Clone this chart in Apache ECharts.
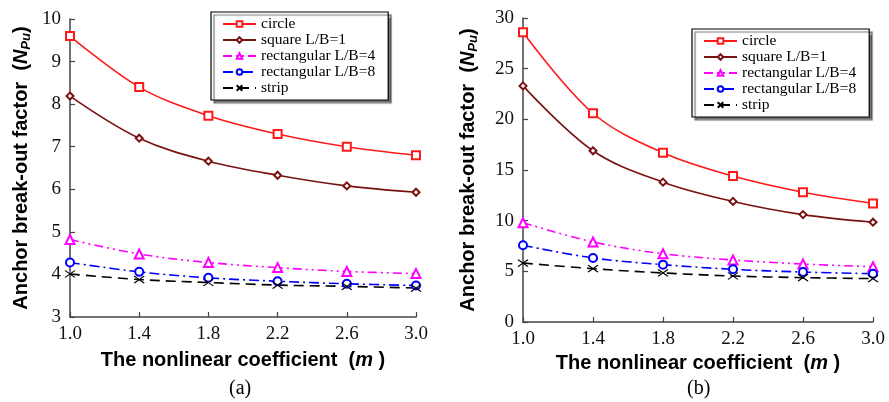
<!DOCTYPE html>
<html>
<head>
<meta charset="utf-8">
<script src="https://cdn.jsdelivr.net/npm/echarts@6/dist/echarts.min.js"></script>
<style>
html,body{margin:0;padding:0;background:#fff;}
#main{width:889px;height:402px;}
</style>
</head>
<body>
<div id="main"></div>
<script>
// ---- data ----
const categories = ['1.0', '1.4', '1.8', '2.2', '2.6', '3.0'];
const seriesNames = ['circle', 'square L/B=1', 'rectangular L/B=4', 'rectangular L/B=8', 'strip'];

// panel (a)
const aCircle = [9.60, 8.40, 7.73, 7.30, 7.00, 6.80];
const aSquare = [8.19, 7.20, 6.66, 6.33, 6.08, 5.93];
const aRect4  = [4.82, 4.48, 4.28, 4.16, 4.07, 4.02];
const aRect8  = [4.28, 4.06, 3.92, 3.84, 3.78, 3.74];
const aStrip  = [4.01, 3.88, 3.81, 3.75, 3.72, 3.68];

// panel (b)
const bCircle = [28.6, 20.6, 16.7, 14.4, 12.8, 11.7];
const bSquare = [23.3, 16.9, 13.8, 11.9, 10.6, 9.85];
const bRect4  = [9.80, 7.90, 6.74, 6.12, 5.72, 5.46];
const bRect8  = [7.57, 6.32, 5.66, 5.20, 4.93, 4.77];
const bStrip  = [5.82, 5.26, 4.84, 4.54, 4.38, 4.28];

const panelLabels = ['(a)', '(b)'];

// ---- styles ----
const styles = [
  {color: '#ff1a1a', symbol: 'emptyRect', size: 8, type: 'solid'},
  {color: '#7a1212', symbol: 'emptyDiamond', size: 7, type: 'solid'},
  {color: '#ff00ff', symbol: 'emptyTriangle', size: 9, type: [9, 4, 2, 4, 2, 4]},
  {color: '#0000ff', symbol: 'emptyCircle', size: 8, type: [10, 4, 2, 4]},
  {color: '#000000', symbol: 'path://M0,0L12,9M0,9L12,0', size: [10, 7], type: [10, 6]}
];

const serif = 'Liberation Serif, Times New Roman, serif';
const sans = 'Liberation Sans, Arial, sans-serif';

function makeSeries(dataArr, idx) {
  return dataArr.map((d, i) => {
    const s = styles[i];
    const isPath = s.symbol.indexOf('path://') === 0;
    return {
      name: seriesNames[i],
      type: 'line',
      xAxisIndex: idx,
      yAxisIndex: idx,
      data: d,
      smooth: 0.35,
      symbol: s.symbol,
      symbolSize: s.size,
      showAllSymbol: true,
      lineStyle: {color: s.color, width: 1.6, type: s.type},
      itemStyle: isPath ? {color: s.color, borderColor: s.color, borderWidth: 1.2}
                        : {color: s.color, borderWidth: 1.1},
      emphasis: {disabled: true},
      animation: false
    };
  });
}

function yName() {
  return '{b|Anchor break-out factor  (}{i|N}{s|Pu}{b|)}';
}
const yNameRich = {
  b: {fontFamily: sans, fontWeight: 'bold', fontSize: 20, color: '#000', lineHeight: 24, verticalAlign: 'middle'},
  i: {fontFamily: sans, fontWeight: 'bold', fontStyle: 'italic', fontSize: 20, color: '#000', lineHeight: 24, verticalAlign: 'middle'},
  s: {fontFamily: sans, fontWeight: 'bold', fontStyle: 'italic', fontSize: 13, color: '#000', lineHeight: 14, verticalAlign: 'bottom'}
};
const xNameRich = {
  b: {fontFamily: sans, fontWeight: 'bold', fontSize: 20, color: '#000'},
  i: {fontFamily: sans, fontWeight: 'bold', fontStyle: 'italic', fontSize: 20, color: '#000'}
};

function xAxis(idx, gap) {
  return {
    type: 'category', gridIndex: idx, data: categories, boundaryGap: false,
    name: '{b|The nonlinear coefficient  (}{i|m}{b| )}', nameLocation: 'middle', nameGap: gap,
    nameTextStyle: {rich: xNameRich},
    axisLine: {lineStyle: {color: '#444', width: 1.5}},
    axisTick: {inside: true, length: 5, lineStyle: {color: '#444', width: 1.2}},
    axisLabel: {fontFamily: serif, fontSize: 19, color: '#111', margin: 8, interval: 0},
    splitLine: {show: false}
  };
}
function yAxis(idx, min, max, interval, gap) {
  return {
    type: 'value', gridIndex: idx, min: min, max: max, interval: interval,
    name: yName(), nameLocation: 'middle', nameGap: gap, nameRotate: 90,
    nameTextStyle: {rich: yNameRich},
    axisLine: {show: true, lineStyle: {color: '#444', width: 1.5}},
    axisTick: {show: true, inside: true, length: 5, lineStyle: {color: '#444', width: 1.2}},
    axisLabel: {fontFamily: serif, fontSize: 19, color: '#111', margin: 9},
    splitLine: {show: false}
  };
}
function legend(left, top) {
  return {
    orient: 'vertical', left: left, top: top,
    data: seriesNames,
    itemWidth: 33, itemHeight: 7, itemGap: 0,
    padding: [4, 13, 4, 11],
    backgroundColor: '#fff',
    borderColor: '#000', borderWidth: 1.2, borderRadius: 0,
    shadowColor: 'rgba(0,0,0,0.55)', shadowBlur: 1, shadowOffsetX: 3, shadowOffsetY: 3,
    textStyle: {fontFamily: serif, fontSize: 15.5, color: '#000', lineHeight: 16, padding: [0, 0, 0, 0]},
    selectedMode: false
  };
}

const chart = echarts.init(document.getElementById('main'), null, {renderer: 'canvas'});
chart.setOption({
  animation: false,
  backgroundColor: '#fff',
  grid: [
    {left: 70, top: 19, width: 346, height: 298},
    {left: 523, top: 18, width: 350, height: 304}
  ],
  xAxis: [xAxis(0, 33), xAxis(1, 29)],
  yAxis: [yAxis(0, 3, 10, 1, 37), yAxis(1, 0, 30, 5, 43)],
  legend: [legend(211, 12), legend(692, 29)],
  series: makeSeries([aCircle, aSquare, aRect4, aRect8, aStrip], 0)
    .concat(makeSeries([bCircle, bSquare, bRect4, bRect8, bStrip], 1)),
  graphic: [
    {type: 'text', left: 229, top: 379, style: {text: panelLabels[0], font: '20px ' + serif, fill: '#000'}},
    {type: 'text', left: 687, top: 379, style: {text: panelLabels[1], font: '20px ' + serif, fill: '#000'}}
  ]
});
</script>
</body>
</html>
